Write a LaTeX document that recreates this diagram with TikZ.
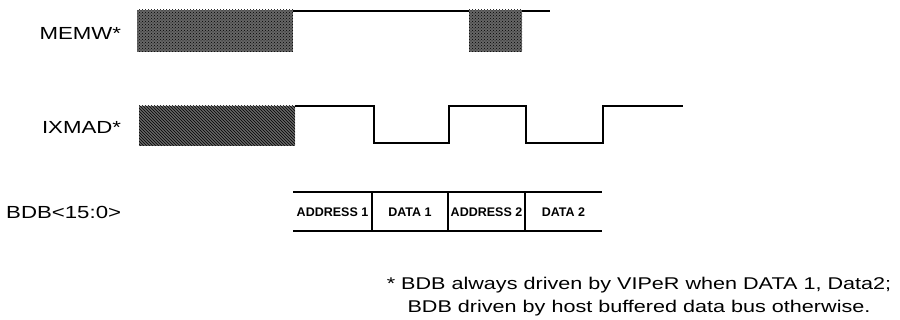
\documentclass[tikz,border=0pt]{standalone}
\usepackage{fontspec}
\setmainfont{Liberation Sans}
\newfontfamily\widesf[FakeStretch=1.27]{Liberation Sans}
\usetikzlibrary{patterns}

\begin{document}
\begin{tikzpicture}[x=1pt,y=-1pt,line width=1.8pt]
\tikzstyle{sig}=[line width=1.8pt,line join=miter]
\tikzstyle{lbl}=[anchor=base east,inner sep=0pt,font={\widesf\fontsize{17.5}{20}\selectfont}]
\tikzstyle{note}=[anchor=base,inner sep=0pt,font={\widesf\fontsize{17}{20}\selectfont}]
\tikzstyle{cell}=[inner sep=0pt,font={\bfseries\fontsize{12.5}{14}\selectfont}]
\tikzstyle{xhatch}=[preaction={fill=black!60},pattern=crosshatch dots,pattern color=black]
\tikzstyle{dhatch}=[preaction={fill=black!60},pattern=north west lines,pattern color=black]
\useasboundingbox (0,0) rectangle (900,320);
% signal names
\node[lbl] (memw) at (122,40) {MEMW*};
\node[lbl] (ixmad) at (122,134) {IXMAD*};
\node[lbl] (bdb) at (122,219) {BDB<15:0>};
% MEMW*
\fill[xhatch] (137,10) rectangle (293,52);
\fill[xhatch] (469,10) rectangle (522,52);
\draw[sig] (293,11) -- (469,11);
\draw[sig] (522,11) -- (550,11);
% IXMAD*
\fill[dhatch] (139,106) rectangle (295,146);
\draw[sig] (295,106) -- (374,106) -- (374,143) -- (449,143) -- (449,106)
  -- (526,106) -- (526,143) -- (603,143) -- (603,106) -- (683,106);
% BDB<15:0>
\draw[sig] (293,192) -- (602,192);
\draw[sig] (293,231) -- (602,231);
\foreach \x in {372,448,525}
  \draw[sig] (\x,192) -- (\x,231);
\node[cell] (adr1) at (332.5,212) {ADDRESS 1};
\node[cell] (dat1) at (410,212) {DATA 1};
\node[cell] (adr2) at (486.5,212) {ADDRESS 2};
\node[cell] (dat2) at (563.5,212) {DATA 2};
% footnote
\node[note] (note1) at (639,290) {* BDB always driven by VIPeR when DATA 1, Data2;};
\node[note] (note2) at (639,313) {BDB driven by host buffered data bus otherwise.};
\end{tikzpicture}
\end{document}
